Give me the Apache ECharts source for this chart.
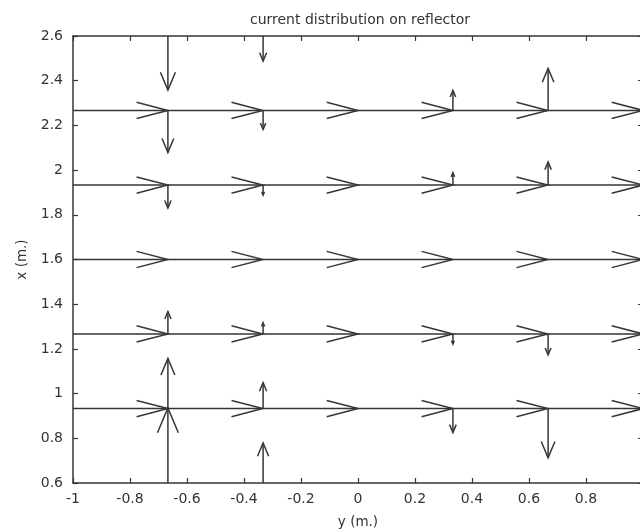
<!DOCTYPE html>
<html>
<head>
<meta charset="utf-8">
<style>
  html, body { margin: 0; padding: 0; background: #ffffff; }
  #chart { width: 640px; height: 531px; }
</style>
<script src="https://cdn.jsdelivr.net/npm/echarts@6/dist/echarts.min.js"></script>
</head>
<body>
<div id="chart"></div>
<script>
// Grid of arrow tails
const yCols = [-1, -0.667, -0.333, 0, 0.333, 0.667];        // horizontal axis (y)
const xRows = [0.6, 0.933, 1.267, 1.6, 1.933, 2.267, 2.6];  // vertical axis (x), bottom to top
// Horizontal (y-direction) component, per row
const jyByRow = [0, 0.333, 0.333, 0.333, 0.333, 0.333, 0];
// Vertical (x-direction) component, one array per column, rows bottom to top
const jxAtYm100 = [0, 0, 0, 0, 0, 0, 0];
const jxAtYm067 = [0.336, 0.224, 0.100, 0, -0.103, -0.188, -0.242];
const jxAtYm033 = [0.179, 0.116, 0.050, 0, -0.045, -0.085, -0.112];
const jxAtY000  = [0, 0, 0, 0, 0, 0, 0];
const jxAtY033  = [-0.179, -0.107, -0.045, 0, 0.055, 0.090, 0.112];
const jxAtY067  = [-0.336, -0.220, -0.094, 0, 0.103, 0.188, 0.242];
const jxColumns = [jxAtYm100, jxAtYm067, jxAtYm033, jxAtY000, jxAtY033, jxAtY067];

// Axis tick settings
const yTickMin = -1, yTickMax = 1, yTickStep = 0.2;
const xTickMin = 0.6, xTickMax = 2.6, xTickStep = 0.2;

// Build quiver data [y, x, u, v]; horizontal and vertical components drawn as separate arrows
const horizArrows = [];
const vertArrows = [];
xRows.forEach(function (xr, ri) {
  yCols.forEach(function (yc, ci) {
    if (jyByRow[ri] !== 0) horizArrows.push([yc, xr, jyByRow[ri], 0]);
    const v = jxColumns[ci][ri];
    if (v !== 0) vertArrows.push([yc, xr, 0, v]);
  });
});

const INK = '#363636';
function renderArrow(params, api) {
  const y0 = api.value(0), x0 = api.value(1), u = api.value(2), v = api.value(3);
  const a = 0.33, b = 0.33;
  const p0 = api.coord([y0, x0]);
  const tip = api.coord([y0 + u, x0 + v]);
  const h1 = api.coord([y0 + u - a * (u + b * v), x0 + v - a * (v - b * u)]);
  const h2 = api.coord([y0 + u - a * (u - b * v), x0 + v - a * (v + b * u)]);
  const st = { stroke: INK, lineWidth: 1.5, fill: null };
  return {
    type: 'group',
    children: [
      { type: 'polyline', shape: { points: [p0, tip] }, style: st },
      { type: 'polyline', shape: { points: [h1, tip, h2] }, style: st }
    ]
  };
}

const FONT = 'DejaVu Sans';
function axisBase() {
  return {
    type: 'value',
    axisLine: { show: true, onZero: false, lineStyle: { color: INK, width: 1.5 } },
    axisTick: { show: true, inside: true, length: 5, lineStyle: { color: INK, width: 1.2 } },
    splitLine: { show: false }
  };
}

const chart = echarts.init(document.getElementById('chart'), null, { renderer: 'canvas' });
chart.setOption({
  backgroundColor: '#ffffff',
  animation: false,
  title: {
    text: 'current distribution on reflector',
    left: 355, top: 8, textAlign: 'center',
    textStyle: { fontFamily: FONT, fontSize: 14, fontWeight: 'normal', color: '#333' }
  },
  grid: { left: 73, top: 36, width: 570, height: 447, outerBoundsMode: 'none', containLabel: false },
  xAxis: [
    Object.assign(axisBase(), {
      position: 'bottom', min: yTickMin, max: yTickMax, interval: yTickStep,
      name: 'y (m.)', nameLocation: 'middle', nameGap: 32,
      nameTextStyle: { fontFamily: FONT, fontSize: 13.5, color: '#333' },
      axisLabel: { fontFamily: FONT, fontSize: 14, color: '#333', margin: 9 }
    }),
    Object.assign(axisBase(), {
      position: 'top', min: yTickMin, max: yTickMax, interval: yTickStep,
      axisLabel: { show: false }
    })
  ],
  yAxis: [
    Object.assign(axisBase(), {
      position: 'left', min: xTickMin, max: xTickMax, interval: xTickStep,
      name: 'x (m.)', nameLocation: 'middle', nameGap: 43,
      nameTextStyle: { fontFamily: FONT, fontSize: 13.5, color: '#333' },
      axisLabel: { fontFamily: FONT, fontSize: 14, color: '#333', margin: 10 }
    }),
    Object.assign(axisBase(), {
      position: 'right', min: xTickMin, max: xTickMax, interval: xTickStep,
      axisLabel: { show: false }
    })
  ],
  series: [
    { type: 'custom', name: 'Jy', xAxisIndex: 0, yAxisIndex: 0, clip: true,
      renderItem: renderArrow, data: horizArrows, silent: true },
    { type: 'custom', name: 'Jx', xAxisIndex: 0, yAxisIndex: 0, clip: true,
      renderItem: renderArrow, data: vertArrows, silent: true }
  ]
});
</script>
</body>
</html>
